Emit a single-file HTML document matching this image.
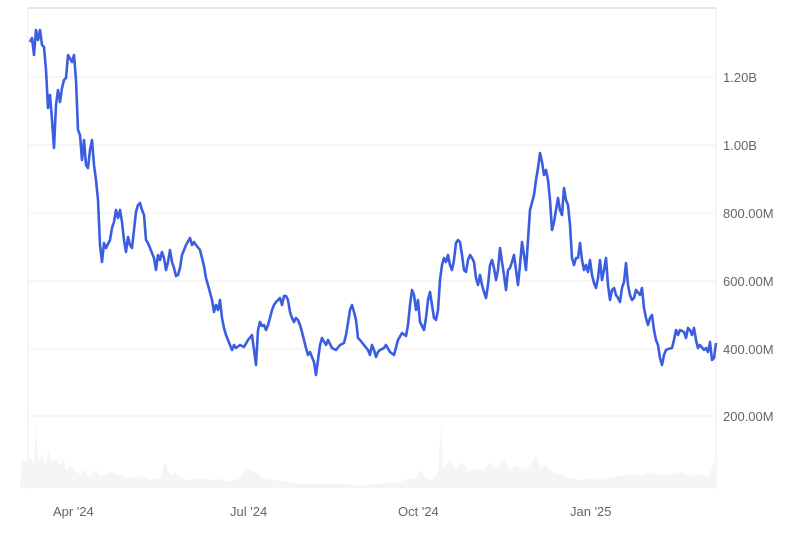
<!DOCTYPE html>
<html><head><style>
body{margin:0;background:#fff;}
svg text{font-family:"Liberation Sans",sans-serif;font-size:13px;fill:#666;}
</style></head><body>
<svg width="800" height="529" xmlns="http://www.w3.org/2000/svg">
<rect width="800" height="529" fill="#fff"/>
<line x1="28" y1="8" x2="716" y2="8" stroke="#e6e6e6" stroke-width="2"/>
<g stroke="#eeeeee" stroke-width="1">
<line x1="28" y1="77" x2="716" y2="77"/>
<line x1="28" y1="145" x2="716" y2="145"/>
<line x1="28" y1="213" x2="716" y2="213"/>
<line x1="28" y1="281" x2="716" y2="281"/>
<line x1="28" y1="349" x2="716" y2="349"/>
<line x1="28" y1="416" x2="716" y2="416"/>
<line x1="28" y1="8" x2="28" y2="490"/>
<line x1="716" y1="8" x2="716" y2="490"/>
</g>
<polygon fill="#f5f5f5" points="20,488 22,460 26,462 30,458 34,465 36,422 38,462 42,455 46,465 48,450 52,462 56,458 60,465 64,460 66,470 70,465 76,472 82,475 86,468 88,478 96,470 100,476 110,472 120,475 130,478 140,476 150,480 160,478 165,462 170,476 175,472 180,478 190,480 200,478 210,480 220,479 230,482 240,478 246,468 250,470 256,472 262,478 272,480 290,482 300,484 320,484 340,484 360,485 380,484 400,482 410,478 416,480 420,470 426,478 432,480 438,472 441,422 443,470 450,460 456,470 462,462 468,472 476,468 484,470 490,462 496,468 504,460 510,470 516,465 522,468 526,470 532,462 536,455 540,468 546,465 552,472 560,474 570,478 580,480 590,478 600,480 610,478 620,476 630,474 640,476 650,472 660,475 670,474 680,472 690,476 700,474 708,476 712,468 716,455 716,488"/>
<polyline fill="none" stroke="#3b5ee0" stroke-width="2.6" stroke-linejoin="round" points="30,42 32,38 34,55 36,30 38,40 40,30 42,45 44,47 46,70 48,108 50,95 52,120 54,148 56,105 58,90 60,102 62,88 64,80 66,78 68,55 72,62 74,55 76,80 78,130 80,135 82,160 84,140 86,165 88,168 90,150 92,140 94,165 96,180 98,200 100,245 102,262 104,243 106,248 110,240 112,228 114,222 116,210 118,218 120,210 122,222 124,240 126,252 128,237 130,245 132,248 134,230 136,212 138,205 140,203 142,210 144,215 146,240 148,243 150,248 154,258 156,270 158,255 160,260 162,252 164,258 166,270 168,262 170,250 172,262 174,268 176,276 178,275 180,268 182,255 186,245 190,238 192,245 194,242 196,245 200,250 204,266 206,278 208,285 212,300 214,312 216,305 218,310 220,300 222,318 224,328 226,335 228,340 230,345 232,350 234,345 236,348 240,345 244,347 248,340 252,335 254,350 256,365 258,330 260,322 262,326 264,325 266,330 268,325 270,318 272,310 274,305 276,302 278,300 280,298 282,305 284,296 286,296 288,300 290,312 292,318 294,322 296,318 298,320 300,325 302,332 306,348 308,355 310,352 314,362 316,375 318,360 320,345 322,338 326,345 328,340 332,348 336,350 340,345 344,343 346,335 348,323 350,310 352,305 354,312 356,320 358,338 360,340 364,345 368,350 370,355 372,345 374,350 376,357 378,352 380,350 384,348 386,345 390,352 394,355 398,340 402,333 406,336 408,325 410,305 412,290 414,295 416,310 418,300 420,322 424,330 426,318 428,300 430,292 432,305 434,318 436,320 438,310 440,280 442,265 444,258 446,262 448,255 450,265 452,270 454,260 456,243 458,240 460,242 462,255 464,270 466,272 468,260 470,255 472,258 474,262 476,278 478,285 480,275 482,285 484,292 486,298 488,285 490,265 492,260 494,268 496,280 498,270 500,248 502,262 504,275 506,290 508,270 510,268 512,262 514,255 516,270 518,285 520,265 522,242 524,255 526,270 528,240 530,210 534,195 536,180 538,168 540,153 542,162 544,175 546,170 548,180 550,200 552,230 554,222 556,210 558,198 560,210 562,215 564,188 566,200 568,205 570,225 572,258 574,265 576,258 578,258 580,243 582,260 584,270 586,265 588,272 590,260 592,275 594,283 596,288 598,278 600,260 602,280 604,270 606,258 608,285 610,300 612,290 614,288 616,295 618,298 620,302 622,288 624,282 626,263 628,285 630,295 632,300 634,298 636,290 640,295 642,288 644,308 646,318 648,325 650,318 652,315 654,330 656,340 658,345 660,358 662,365 664,355 666,350 668,349 672,348 674,340 676,330 678,335 680,330 684,332 686,338 688,328 690,330 692,335 694,328 696,340 698,348 700,345 704,350 706,348 708,352 710,342 712,360 714,358 716,343"/>
<text x="723" y="82">1.20B</text>
<text x="723" y="150">1.00B</text>
<text x="723" y="218">800.00M</text>
<text x="723" y="286">600.00M</text>
<text x="723" y="354">400.00M</text>
<text x="723" y="421">200.00M</text>
<text x="53" y="516">Apr '24</text>
<text x="230" y="516">Jul '24</text>
<text x="398" y="516">Oct '24</text>
<text x="570" y="516">Jan '25</text>
</svg>
</body></html>
